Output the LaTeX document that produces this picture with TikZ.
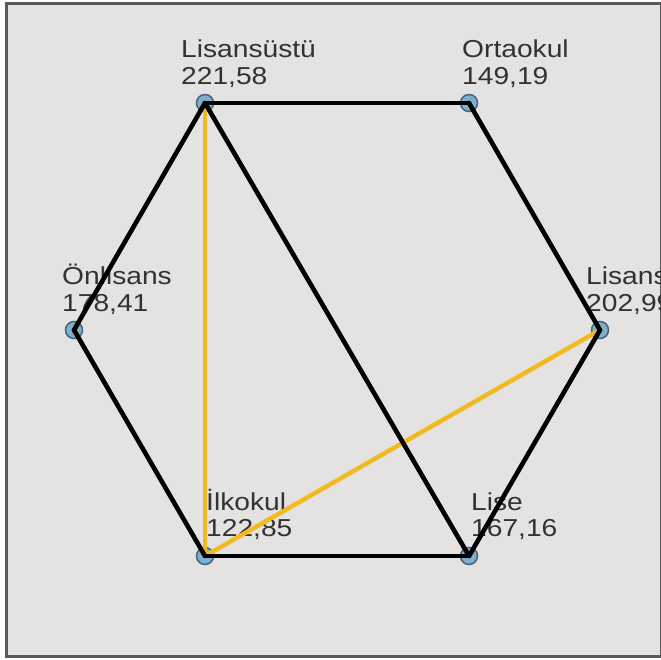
\documentclass[tikz,border=0pt]{standalone}
\usepackage{fontspec}
\newfontfamily\lblfont[FakeStretch=1.15]{Liberation Sans}
\definecolor{bg}{RGB}{228,227,225}
\definecolor{frame}{RGB}{90,90,90}
\definecolor{dotfill}{RGB}{126,176,206}
\definecolor{dotline}{RGB}{70,100,125}
\definecolor{gold}{RGB}{242,186,30}
\definecolor{txt}{RGB}{50,50,50}
\tikzset{
  vertex/.style={circle, fill=dotfill, draw=dotline, line width=1.5pt, minimum size=17pt, inner sep=0pt},
  lbl/.style={anchor=base west, inner sep=0pt, text=txt, font=\lblfont\fontsize{24.5}{27}\selectfont},
  blackedge/.style={draw=black, line width=4.6pt, line cap=round, line join=round},
  goldedge/.style={draw=gold, line width=4.4pt, line cap=round}
}
\begin{document}
\begin{tikzpicture}[x=1pt,y=-1pt]
\useasboundingbox (0,0) rectangle (661,659);
\clip (0,0) rectangle (661,659);
\fill[white] (0,0) rectangle (661,659);
\draw[frame, fill=bg, line width=3pt] (6.5,3.5) rectangle (661,656.5);
% labels
\node[lbl] (tA1) at (181,57) {Lisansüstü};
\node[lbl] (tA2) at (181,84) {221,58};
\node[lbl] (tB1) at (462,57) {Ortaokul};
\node[lbl] (tB2) at (462,84) {149,19};
\node[lbl] (tC1) at (62,284) {Önlisans};
\node[lbl] (tC2) at (62,311) {178,41};
\node[lbl] (tD1) at (586,284) {Lisans};
\node[lbl] (tD2) at (586,311) {202,99};
\node[lbl] (tE1) at (206,510) {İlkokul};
\node[lbl] (tE2) at (206,536) {122,85};
\node[lbl] (tF1) at (471,510) {Lise};
\node[lbl] (tF2) at (471,536) {167,16};
% vertices
\node[vertex] (A) at (205,103) {};
\node[vertex] (B) at (469,103) {};
\node[vertex] (C) at (74,330) {};
\node[vertex] (D) at (600,330) {};
\node[vertex] (E) at (205,556) {};
\node[vertex] (F) at (469,556) {};
% edges
\draw[goldedge] (A.center) -- (E.center);
\draw[goldedge] (E.center) -- (D.center);
\draw[blackedge] (A.center) -- (B.center);
\draw[blackedge] (B.center) -- (D.center);
\draw[blackedge] (D.center) -- (F.center);
\draw[blackedge] (F.center) -- (E.center);
\draw[blackedge] (E.center) -- (C.center);
\draw[blackedge] (C.center) -- (A.center);
\draw[blackedge] (A.center) -- (F.center);
\end{tikzpicture}
\end{document}
